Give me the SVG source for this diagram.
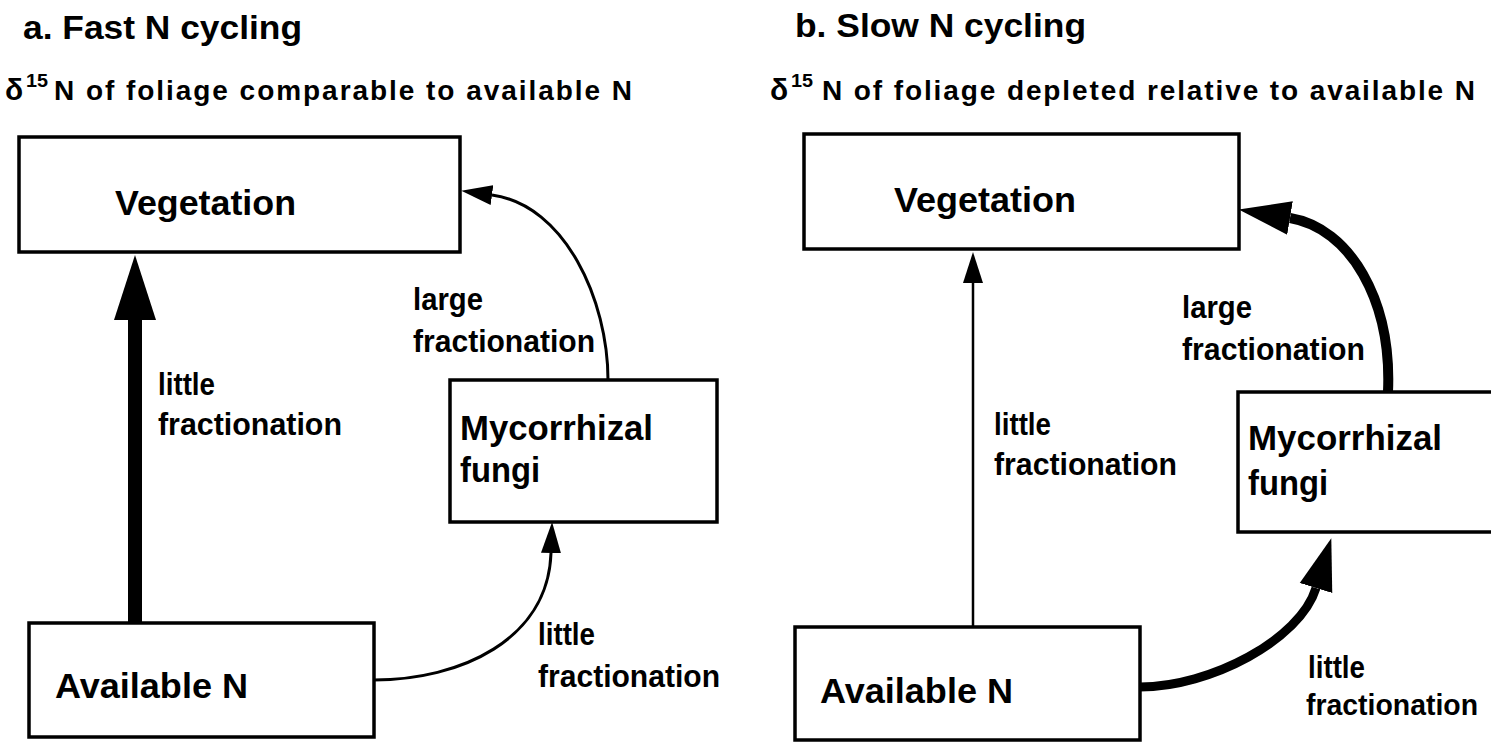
<svg xmlns="http://www.w3.org/2000/svg" width="1491" height="742" viewBox="0 0 1491 742">
<style>
  text { font-family: "Liberation Sans", Arial, sans-serif; font-weight: bold; fill: #000; }
  .title { font-size: 34px; }
  .sub { font-size: 28px; }
  .delta { font-size: 30px; }
  .sup { font-size: 18px; }
  .node { font-size: 35px; }
  .lbl { font-size: 31px; }
  .lbl.edge { font-size: 29px; }
  .box { fill: none; stroke: #000; stroke-width: 3.5; }
  .conn { fill: none; stroke: #000; }
</style>
<defs>
  <marker id="headThin" markerUnits="userSpaceOnUse" markerWidth="32" markerHeight="22" viewBox="0 -11 32 22" refX="0" refY="0" orient="auto">
    <path d="M0,-10 L31,0 L0,10 Z" fill="#000"/>
  </marker>
  <marker id="headThickA" markerUnits="userSpaceOnUse" markerWidth="66" markerHeight="44" viewBox="0 -22 66 44" refX="0" refY="0" orient="auto">
    <path d="M0,-21 L65,0 L0,21 Z" fill="#000"/>
  </marker>
  <marker id="headThickB" markerUnits="userSpaceOnUse" markerWidth="54" markerHeight="36" viewBox="0 -18 54 36" refX="0" refY="0" orient="auto">
    <path d="M0,-17 L52,0 L0,17 Z" fill="#000"/>
  </marker>
</defs>
<rect x="0" y="0" width="1491" height="742" fill="#fff"/>

<g id="headings">
  <text class="title" x="23" y="39" textLength="279" lengthAdjust="spacingAndGlyphs">a. Fast N cycling</text>
  <text class="delta" x="5" y="100">δ</text>
  <text class="sup" x="26" y="87" textLength="22" lengthAdjust="spacingAndGlyphs">15</text>
  <text class="sub" x="54" y="100" textLength="578" lengthAdjust="spacing">N of foliage comparable to available N</text>
  <text class="title" x="795" y="37" textLength="291" lengthAdjust="spacingAndGlyphs">b. Slow N cycling</text>
  <text class="delta" x="770" y="100">δ</text>
  <text class="sup" x="791" y="87" textLength="22" lengthAdjust="spacingAndGlyphs">15</text>
  <text class="sub" x="822" y="100" textLength="653" lengthAdjust="spacing">N of foliage depleted relative to available N</text>
</g>

<g id="connectors">
  <!-- panel a -->
  <path class="conn" stroke-width="14" d="M135,623 L135,320" marker-end="url(#headThickA)"/>
  <path class="conn" stroke-width="3" d="M608,380 C608,300 565,205 492,195" marker-end="url(#headThin)"/>
  <path class="conn" stroke-width="3" d="M374,680 C460,680 548,640 551,553" marker-end="url(#headThin)"/>
  <!-- panel b -->
  <path class="conn" stroke-width="2.5" d="M973,627 L973,283" marker-end="url(#headThin)"/>
  <path class="conn" stroke-width="10" d="M1388,392 C1392,300 1350,228 1290,218" marker-end="url(#headThickB)"/>
  <path class="conn" stroke-width="9" d="M1140,687 C1210,687 1300,640 1316,588" marker-end="url(#headThickB)"/>
</g>

<g id="labels">
  <text class="lbl" x="158" y="395" textLength="57" lengthAdjust="spacingAndGlyphs">little</text>
  <text class="lbl" x="158" y="435" textLength="184" lengthAdjust="spacingAndGlyphs">fractionation</text>
  <text class="lbl" x="413" y="310" textLength="70" lengthAdjust="spacingAndGlyphs">large</text>
  <text class="lbl" x="413" y="352" textLength="182" lengthAdjust="spacingAndGlyphs">fractionation</text>
  <text class="lbl" x="538" y="645" textLength="57" lengthAdjust="spacingAndGlyphs">little</text>
  <text class="lbl" x="538" y="687" textLength="182" lengthAdjust="spacingAndGlyphs">fractionation</text>
  <text class="lbl" x="1182" y="318" textLength="70" lengthAdjust="spacingAndGlyphs">large</text>
  <text class="lbl" x="1182" y="360" textLength="183" lengthAdjust="spacingAndGlyphs">fractionation</text>
  <text class="lbl" x="994" y="435" textLength="57" lengthAdjust="spacingAndGlyphs">little</text>
  <text class="lbl" x="994" y="475" textLength="183" lengthAdjust="spacingAndGlyphs">fractionation</text>
  <text class="lbl" x="1308" y="678" textLength="57" lengthAdjust="spacingAndGlyphs">little</text>
  <text class="lbl edge" x="1306" y="715" textLength="172" lengthAdjust="spacingAndGlyphs">fractionation</text>
</g>

<g id="vegetation-a">
  <rect class="box" x="19" y="137" width="441" height="115"/>
  <text class="node" x="115" y="215" textLength="181" lengthAdjust="spacingAndGlyphs">Vegetation</text>
</g>
<g id="mycorrhizal-a">
  <rect class="box" x="450" y="380" width="267" height="142"/>
  <text class="node" x="460" y="440" textLength="193" lengthAdjust="spacingAndGlyphs">Mycorrhizal</text>
  <text class="node" x="460" y="482" textLength="80" lengthAdjust="spacingAndGlyphs">fungi</text>
</g>
<g id="available-a">
  <rect class="box" x="29" y="623" width="345" height="114"/>
  <text class="node" x="55" y="698" textLength="193" lengthAdjust="spacingAndGlyphs">Available N</text>
</g>

<g id="vegetation-b">
  <rect class="box" x="804" y="134" width="435" height="115"/>
  <text class="node" x="894" y="212" textLength="182" lengthAdjust="spacingAndGlyphs">Vegetation</text>
</g>
<g id="mycorrhizal-b">
  <rect class="box" x="1238" y="392" width="270" height="140"/>
  <text class="node" x="1248" y="450" textLength="194" lengthAdjust="spacingAndGlyphs">Mycorrhizal</text>
  <text class="node" x="1248" y="495" textLength="80" lengthAdjust="spacingAndGlyphs">fungi</text>
</g>
<g id="available-b">
  <rect class="box" x="795" y="627" width="345" height="113"/>
  <text class="node" x="820" y="703" textLength="193" lengthAdjust="spacingAndGlyphs">Available N</text>
</g>
</svg>
